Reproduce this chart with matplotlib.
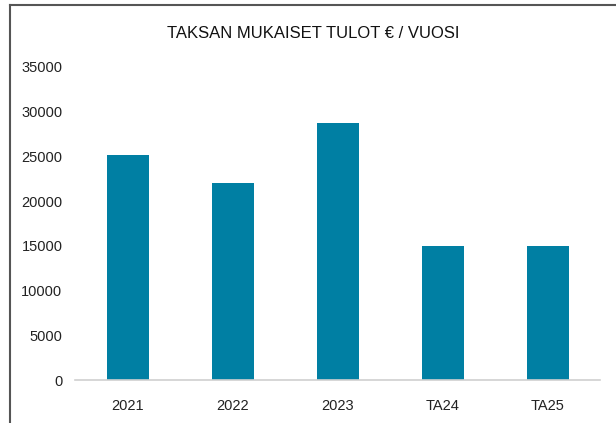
import matplotlib.pyplot as plt
from matplotlib.lines import Line2D

categories = ["2021", "2022", "2023", "TA24", "TA25"]
values = [25200, 22000, 28750, 15000, 15000]
yticks = [0, 5000, 10000, 15000, 20000, 25000, 30000, 35000]

plt.rcParams["font.family"] = ["Liberation Sans", "DejaVu Sans"]

W, H = 616, 423
fig = plt.figure(figsize=(W / 100, H / 100), dpi=100)
ax = fig.add_axes([75 / W, 1 - 380 / H, 525 / W, 313 / H])

ax.bar(range(len(categories)), values, width=0.4, color="#007FA3")
ax.set_xlim(-0.5, len(categories) - 0.5)
ax.set_ylim(0, 35000)
ax.set_yticks(yticks)
ax.set_yticklabels([str(t) for t in yticks])
ax.set_xticks(range(len(categories)))
ax.set_xticklabels(categories)
ax.tick_params(length=0, labelsize=10.5, colors="#222222")
ax.tick_params(axis="y", pad=9)
ax.tick_params(axis="x", pad=14)
for s in ["top", "right", "left"]:
    ax.spines[s].set_visible(False)
ax.spines["bottom"].set_color("#d0d0d0")
ax.spines["bottom"].set_linewidth(1.2)

fig.text(313 / W, 1 - 33 / H, "TAKSAN MUKAISET TULOT € / VUOSI",
         ha="center", va="center", fontsize=12, color="#111111")

# outer frame (right and bottom edges are cut off in the reference)
fig.add_artist(Line2D([10 / W, 10 / W], [0, 1 - 5 / H], transform=fig.transFigure,
                      color="#555555", lw=1.5))
fig.add_artist(Line2D([10 / W, 1], [1 - 5 / H, 1 - 5 / H], transform=fig.transFigure,
                      color="#555555", lw=1.5))

fig.savefig("out.png", dpi=100)
